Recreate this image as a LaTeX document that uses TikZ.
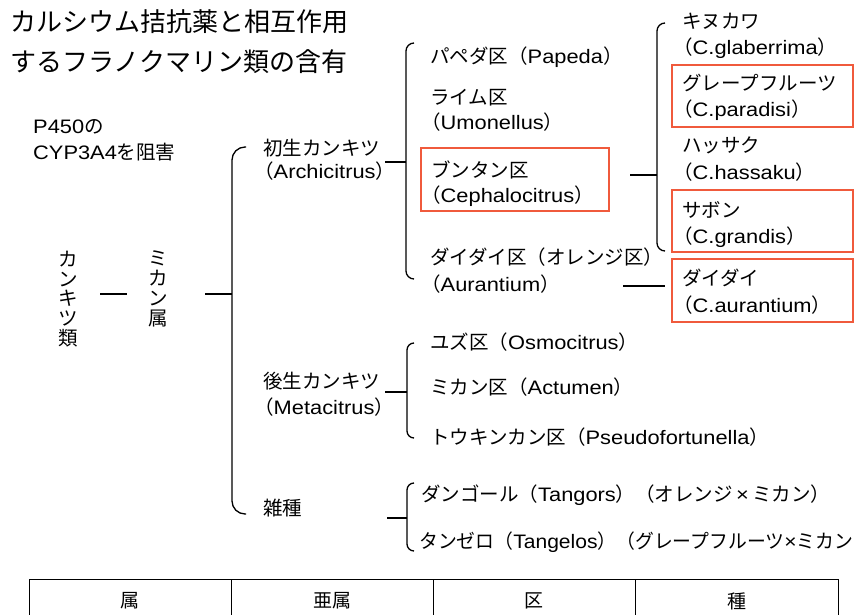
\documentclass[tikz,border=0pt]{standalone}
\usepackage{fontspec}
\setmainfont{Liberation Sans}[FakeStretch=1.12]
\newfontfamily\jpfont{Noto Sans CJK JP}
\XeTeXinterchartokenstate=1
\newXeTeXintercharclass\cjkclass
\count255="3000
\loop\ifnum\count255<"A000 \XeTeXcharclass\count255=\cjkclass \advance\count255 by 1 \repeat
\count255="FF00
\loop\ifnum\count255<"FFF0 \XeTeXcharclass\count255=\cjkclass \advance\count255 by 1 \repeat
\XeTeXinterchartoks 0 \cjkclass = {\jpfont}
\XeTeXinterchartoks 4095 \cjkclass = {\jpfont}
\XeTeXinterchartoks \cjkclass 0 = {\rmfamily}
\XeTeXinterchartoks \cjkclass 4095 = {\rmfamily}
\definecolor{boxred}{RGB}{240,90,60}
\tikzset{
  lbl/.style={anchor=base west, inner sep=0pt, font=\fontsize{19.5}{26}\selectfont},
  ttl/.style={anchor=base west, inner sep=0pt, font=\fontsize{26}{30}\selectfont},
  vtxt/.style={align=center, inner sep=0pt, font=\fontsize{19.5}{19.8}\selectfont},
  tbltxt/.style={inner sep=0pt, font=\fontsize{19}{20}\selectfont},
  brk/.style={line width=1.3pt, rounded corners=#1},
  conn/.style={line width=1.3pt},
  thickconn/.style={line width=2pt},
  redbox/.style={draw=boxred, line width=1.2pt},
  tbl/.style={line width=1pt}
}
\begin{document}
\begin{tikzpicture}[x=1pt,y=-1pt]
\useasboundingbox (0,0) rectangle (859,615);
\fill[white] (0,0) rectangle (859,615);

% red boxes
\draw[redbox] (421,148) rectangle (609,211);
\draw[redbox] (672,65) rectangle (853,127);
\draw[redbox] (672,190) rectangle (853,252);
\draw[redbox] (672,259) rectangle (853,322);

% title
\node[ttl] (t1) at (10,32) {カルシウム拮抗薬と相互作用};
\node[ttl] (t2) at (10,72) {するフラノクマリン類の含有};

\node[lbl] (p450) at (33,133) {P450の};
\node[lbl] (cyp) at (33,159) {CYP3A4を阻害};

\node[vtxt] (kk) at (68,299) {カ\\ン\\キ\\ツ\\類};
\node[vtxt] (mk) at (158,289) {ミ\\カ\\ン\\属};

\node[lbl] (arch1) at (263,155) {初生カンキツ};
\node[lbl] (arch2) at (254,178) {（Archicitrus）};
\node[lbl] (meta1) at (263,388) {後生カンキツ};
\node[lbl] (meta2) at (254,414) {（Metacitrus）};
\node[lbl] (zas) at (263,515) {雑種};

\node[lbl] (pap) at (430,64) {パペダ区（Papeda）};
\node[lbl] (lim1) at (430,105) {ライム区};
\node[lbl] (lim2) at (421,130) {（Umonellus）};
\node[lbl] (bun1) at (431,177) {ブンタン区};
\node[lbl] (bun2) at (421,202) {（Cephalocitrus）};
\node[lbl] (dai1) at (430,264) {ダイダイ区（オレンジ区）};
\node[lbl] (dai2) at (421,291) {（Aurantium）};
\node[lbl] (yuz) at (430,349) {ユズ区（Osmocitrus）};
\node[lbl] (mik) at (430,394) {ミカン区（Actumen）};
\node[lbl] (tou) at (430,444) {トウキンカン区（Pseudofortunella）};
\node[lbl] (tan1) at (421,501) {ダンゴール（Tangors）（オレンジ\,×\,ミカン）};
\node[lbl, xscale=0.965] (tan2) at (419,548) {タンゼロ（Tangelos）（グレープフルーツ×ミカン};

\node[lbl] (kin1) at (682,29) {キヌカワ};
\node[lbl] (kin2) at (673,55) {（C.glaberrima）};
\node[lbl] (gra1) at (682,91) {グレープフルーツ};
\node[lbl] (gra2) at (673,117) {（C.paradisi）};
\node[lbl] (has1) at (682,153) {ハッサク};
\node[lbl] (has2) at (673,179) {（C.hassaku）};
\node[lbl] (sab1) at (682,217) {サボン};
\node[lbl] (sab2) at (673,243) {（C.grandis）};
\node[lbl] (dd1) at (682,285) {ダイダイ};
\node[lbl] (dd2) at (673,312) {（C.aurantium）};

% connectors
\coordinate (l1a) at (100,294); \coordinate (l1b) at (127,294);
\draw[conn] (l1a) -- (l1b);
\coordinate (l2a) at (205,294); \coordinate (l2b) at (232,294);
\draw[conn] (l2a) -- (l2b);

% main bracket
\coordinate (m1) at (246,147); \coordinate (m2) at (232,147);
\coordinate (m3) at (232,514); \coordinate (m4) at (246,514);
\draw[brk=13] (m1) -- (m2) -- (m3) -- (m4);

% archicitrus bracket
\coordinate (a0) at (385,162); \coordinate (a5) at (406,162);
\draw[conn] (a0) -- (a5);
\coordinate (a1) at (414,43); \coordinate (a2) at (406,43);
\coordinate (a3) at (406,279); \coordinate (a4) at (414,279);
\draw[brk=8] (a1) -- (a2) -- (a3) -- (a4);

% metacitrus bracket
\coordinate (b0) at (385,392); \coordinate (b5) at (407,392);
\draw[conn] (b0) -- (b5);
\coordinate (b1) at (414,343); \coordinate (b2) at (407,343);
\coordinate (b3) at (407,438); \coordinate (b4) at (414,438);
\draw[brk=7] (b1) -- (b2) -- (b3) -- (b4);

% hybrid bracket
\coordinate (c0) at (387,518); \coordinate (c5) at (407,518);
\draw[conn] (c0) -- (c5);
\coordinate (c1) at (414,483); \coordinate (c2) at (407,483);
\coordinate (c3) at (407,551); \coordinate (c4) at (414,551);
\draw[brk=7] (c1) -- (c2) -- (c3) -- (c4);

% species bracket
\coordinate (d0) at (630,175); \coordinate (d5) at (657,175);
\draw[conn] (d0) -- (d5);
\coordinate (d1) at (665,23); \coordinate (d2) at (657,23);
\coordinate (d3) at (657,251); \coordinate (d4) at (665,251);
\draw[brk=8] (d1) -- (d2) -- (d3) -- (d4);

% daidai line
\coordinate (e0) at (623,286); \coordinate (e1) at (665,286);
\draw[thickconn] (e0) -- (e1);

% table
\draw[tbl] (29,650) -- (29,579) -- (838,579) -- (838,650);
\draw[tbl] (231,579) -- (231,650);
\draw[tbl] (433,579) -- (433,650);
\draw[tbl] (635,579) -- (635,650);
\node[tbltxt] (h1) at (130,601) {属};
\node[tbltxt] (h2) at (332,601) {亜属};
\node[tbltxt] (h3) at (534,601) {区};
\node[tbltxt] (h4) at (737,601) {種};
\end{tikzpicture}
\end{document}
